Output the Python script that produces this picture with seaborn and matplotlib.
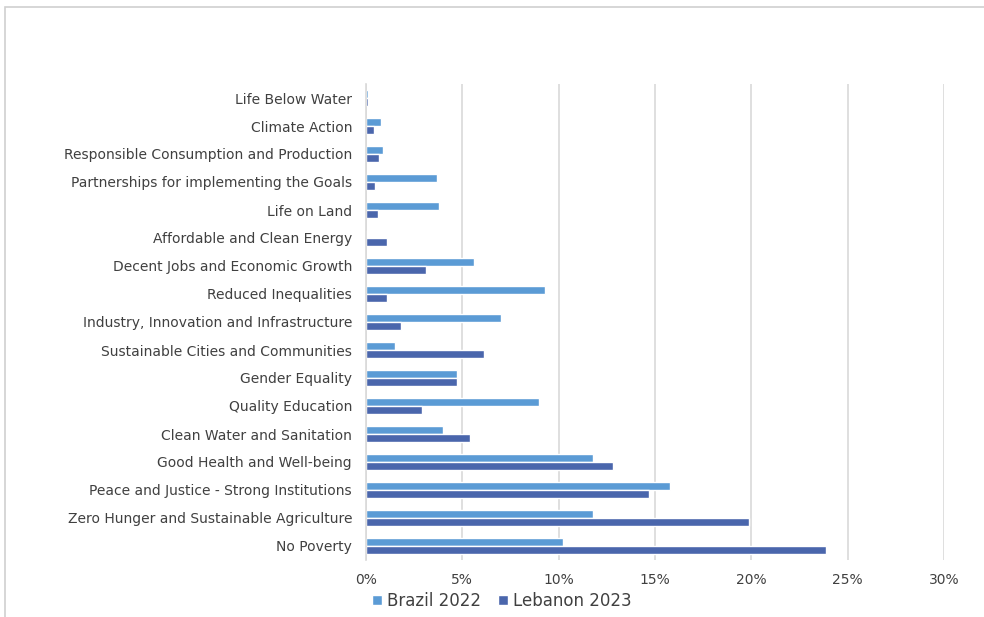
import matplotlib
matplotlib.use("Agg")
import matplotlib.pyplot as plt
import seaborn as sns
import pandas as pd
from matplotlib.patches import Rectangle
from matplotlib.ticker import FuncFormatter

categories = [
    "Life Below Water",
    "Climate Action",
    "Responsible Consumption and Production",
    "Partnerships for implementing the Goals",
    "Life on Land",
    "Affordable and Clean Energy",
    "Decent Jobs and Economic Growth",
    "Reduced Inequalities",
    "Industry, Innovation and Infrastructure",
    "Sustainable Cities and Communities",
    "Gender Equality",
    "Quality Education",
    "Clean Water and Sanitation",
    "Good Health and Well-being",
    "Peace and Justice - Strong Institutions",
    "Zero Hunger and Sustainable Agriculture",
    "No Poverty",
]
brazil_2022 = [0.08, 0.8, 0.9, 3.7, 3.8, 0.0, 5.6, 9.3, 7.0, 1.5, 4.7, 9.0, 4.0, 11.8, 15.8, 11.8, 10.2]
lebanon_2023 = [0.08, 0.42, 0.7, 0.48, 0.6, 1.1, 3.1, 1.1, 1.8, 6.1, 4.7, 2.9, 5.4, 12.8, 14.7, 19.9, 23.9]
series_names = ["Brazil 2022", "Lebanon 2023"]
x_ticks = [0, 5, 10, 15, 20, 25, 30]

df = pd.DataFrame({
    "category": categories * 2,
    "value": brazil_2022 + lebanon_2023,
    "series": [series_names[0]] * len(categories) + [series_names[1]] * len(categories),
})

sns.set_theme(style="white")
plt.rcParams["font.family"] = ["DejaVu Sans"]

fig = plt.figure(figsize=(9.84, 6.17), dpi=100)
W, H = 984, 617
ax = fig.add_axes([366 / W, 1 - 560 / H, (944 - 366) / W, (560 - 84) / H])

palette = {"Brazil 2022": "#5B9BD5", "Lebanon 2023": "#4A66AC"}
sns.barplot(data=df, y="category", x="value", hue="series", order=categories,
            hue_order=series_names, palette=palette, orient="h", width=0.56,
            saturation=1, ax=ax, legend=True)

ax.set_xlim(0, 30)
ax.set_xticks(x_ticks)
ax.xaxis.set_major_formatter(FuncFormatter(lambda v, p: f"{int(v)}%"))
ax.grid(axis="x", color="#D9D9D9", linewidth=1.2)
ax.set_axisbelow(True)
for s in ["top", "right", "bottom"]:
    ax.spines[s].set_visible(False)
ax.spines["left"].set_color("#D9D9D9")
ax.spines["left"].set_linewidth(1.2)
ax.set_xlabel("")
ax.set_ylabel("")
ax.tick_params(axis="both", length=0, labelsize=10, colors="#404040")
ax.tick_params(axis="y", pad=10)
ax.tick_params(axis="x", pad=9)

handles, labels = ax.get_legend_handles_labels()
ax.get_legend().remove()
fig.legend(handles, labels, loc="center", bbox_to_anchor=(502 / W, 1 - 601 / H),
           ncol=2, frameon=False, fontsize=12, handlelength=0.6, handleheight=0.6,
           handletextpad=0.3, columnspacing=1.0, labelcolor="#404040")

fig.patches.append(Rectangle((5 / W, -0.05), 1.1, 1 - 7 / H + 0.05,
                             transform=fig.transFigure, fill=False,
                             edgecolor="#D0D0D0", linewidth=1.2))

fig.savefig("out.png", dpi=100, facecolor="white")
